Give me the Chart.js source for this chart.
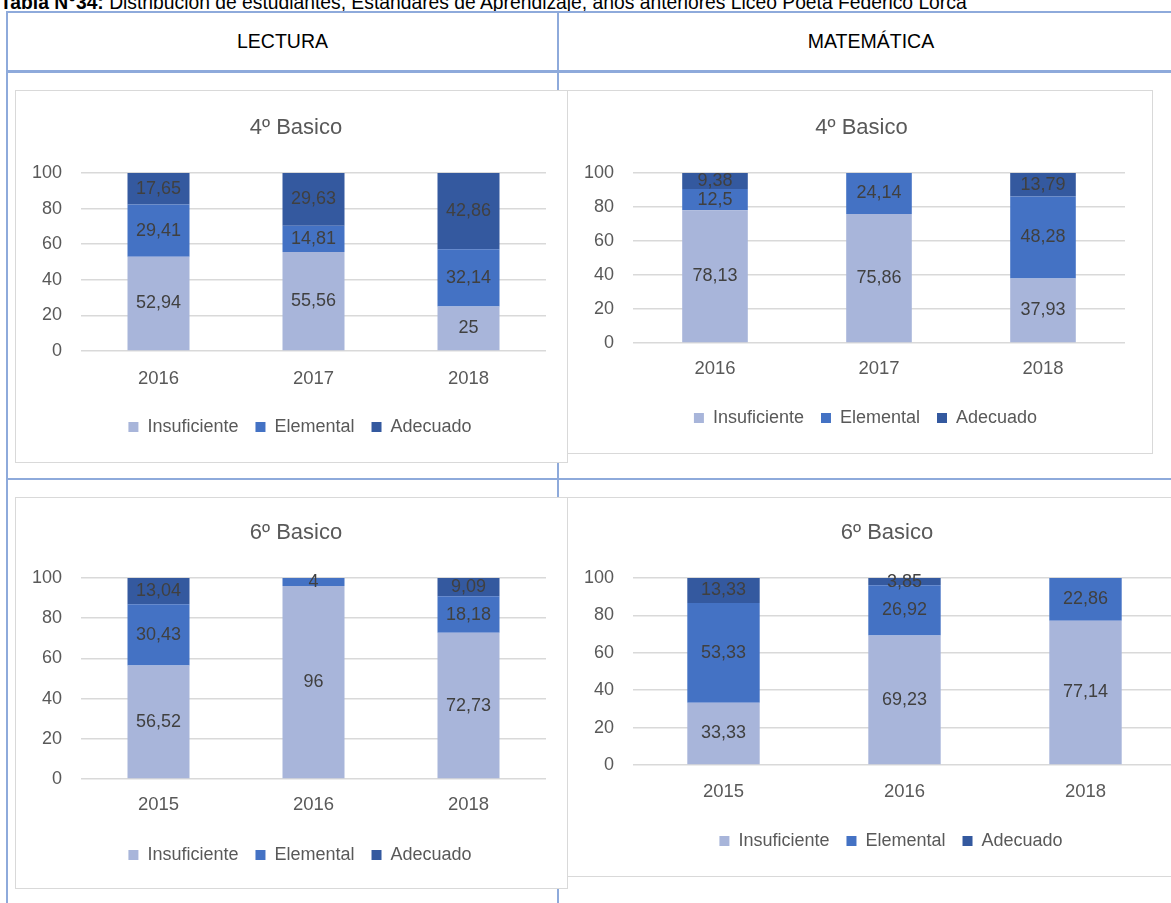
<!DOCTYPE html>
<html lang="es">
<head>
<meta charset="utf-8">
<title>Estándares de Aprendizaje</title>
<script src="https://cdn.jsdelivr.net/npm/chart.js@4.4.1/dist/chart.umd.min.js"></script>
<style>
html, body { margin: 0; padding: 0; background: #fff; overflow: hidden; width: 1171px; height: 903px; }
body { position: relative; font-family: 'Liberation Sans Narrow', 'Arial Narrow', 'Liberation Sans', sans-serif; }
.caption { position: absolute; left: 0; top: -7px; font-size: 19.3px; line-height: 20px; color: #000; white-space: nowrap; }
.line { position: absolute; background: #8eaadb; }
.head { position: absolute; top: 13px; height: 57px; line-height: 57px; text-align: center; font-size: 19.5px; color: #000; }
.box { position: absolute; border: 1px solid #d9d9d9; background: #fff; }
.box canvas { display: block; }
</style>
</head>
<body>
<div class="caption"><b>Tabla N°34:</b> Distribución de estudiantes, Estándares de Aprendizaje, años anteriores Liceo Poeta Federico Lorca</div>

<div class="line" style="left:7px; top:11px; width:1180px; height:2px;"></div>
<div class="line" style="left:6px; top:11px; width:2px; height:900px;"></div>
<div class="line" style="left:557px; top:11px; width:2px; height:900px;"></div>
<div class="line" style="left:7px; top:70px; width:1180px; height:3px;"></div>
<div class="line" style="left:7px; top:478px; width:1180px; height:2px;"></div>

<div class="head" style="left:8px; width:549px;">LECTURA</div>
<div class="head" style="left:559px; width:624px;">MATEMÁTICA</div>

<div class="box" style="left:15px; top:90px;"><canvas id="lectura4" width="551" height="371"></canvas></div>
<div class="box" style="left:567px; top:90px;"><canvas id="matematica4" width="584" height="362"></canvas></div>
<div class="box" style="left:15px; top:497px;"><canvas id="lectura6" width="551" height="390"></canvas></div>
<div class="box" style="left:567px; top:497px;"><canvas id="matematica6" width="634" height="378"></canvas></div>

<script>
// Niveles de logro
const levels = ['Insuficiente', 'Elemental', 'Adecuado'];

// Lectura 4º Basico
const lectura4Years = ['2016', '2017', '2018'];
const lectura4Insuficiente = [52.94, 55.56, 25];
const lectura4Elemental = [29.41, 14.81, 32.14];
const lectura4Adecuado = [17.65, 29.63, 42.86];

// Matemática 4º Basico
const matematica4Years = ['2016', '2017', '2018'];
const matematica4Insuficiente = [78.13, 75.86, 37.93];
const matematica4Elemental = [12.5, 24.14, 48.28];
const matematica4Adecuado = [9.38, 0, 13.79];

// Lectura 6º Basico
const lectura6Years = ['2015', '2016', '2018'];
const lectura6Insuficiente = [56.52, 96, 72.73];
const lectura6Elemental = [30.43, 4, 18.18];
const lectura6Adecuado = [13.04, 0, 9.09];

// Matemática 6º Basico
const matematica6Years = ['2015', '2016', '2018'];
const matematica6Insuficiente = [33.33, 69.23, 77.14];
const matematica6Elemental = [53.33, 26.92, 22.86];
const matematica6Adecuado = [13.33, 3.85, 0];

const levelColors = ['#a8b5da', '#4472c4', '#34599f'];
const FONT = "'Liberation Sans Narrow', 'Arial Narrow', 'Liberation Sans', sans-serif";

// etiquetas de valor centradas en cada segmento (coma decimal)
const valueLabels = {
    id: 'valueLabels',
    afterDatasetsDraw(chart) {
        const ctx = chart.ctx;
        ctx.save();
        ctx.font = '18px ' + FONT;
        ctx.fillStyle = '#404040';
        ctx.textAlign = 'center';
        ctx.textBaseline = 'middle';
        chart.data.datasets.forEach((ds, i) => {
            const meta = chart.getDatasetMeta(i);
            meta.data.forEach((bar, j) => {
                const v = ds.data[j];
                if (!v) return;
                const p = bar.getProps(['x', 'y', 'base'], true);
                ctx.fillText(String(v).replace('.', ','), p.x, (p.y + p.base) / 2);
            });
        });
        ctx.restore();
    }
};

// en Excel el título y la leyenda van centrados un poco más a la derecha
const shiftBlocks = {
    id: 'shiftBlocks',
    afterLayout(chart) {
        if (chart.titleBlock) {
            chart.titleBlock.left += 15;
            chart.titleBlock.right += 15;
        }
        if (chart.legend) {
            chart.legend.left += 19;
            chart.legend.right += 19;
        }
    }
};

function makeChart(id, title, years, series, box) {
    const legendPad = 17;
    const titlePadTop = box.titleY - 13.2;
    const titlePadBottom = box.plotTop - box.titleY - 13.2;
    const legendTop = box.legendY - 9 - legendPad;
    const xAxisHeight = legendTop - box.plotBottom;
    const padBottom = box.h - box.legendY - 19;

    return new Chart(document.getElementById(id), {
        type: 'bar',
        data: {
            labels: years,
            datasets: levels.map((name, i) => ({
                label: name,
                data: series[i],
                backgroundColor: levelColors[i],
                borderWidth: 0,
                barPercentage: 0.4,
                categoryPercentage: 1
            }))
        },
        options: {
            responsive: false,
            animation: false,
            devicePixelRatio: 1,
            layout: { padding: { left: 0, top: 0, right: box.padRight, bottom: padBottom } },
            plugins: {
                title: {
                    display: true,
                    text: title,
                    color: '#595959',
                    font: { family: FONT, size: 22, weight: 'normal' },
                    padding: { top: titlePadTop, bottom: titlePadBottom }
                },
                legend: {
                    position: 'bottom',
                    labels: {
                        color: '#595959',
                        font: { family: FONT, size: 18 },
                        boxWidth: 10,
                        boxHeight: 10,
                        padding: legendPad
                    }
                },
                tooltip: { enabled: false }
            },
            scales: {
                x: {
                    stacked: true,
                    grid: { display: false, drawTicks: false },
                    border: { display: false },
                    ticks: { color: '#595959', font: { family: FONT, size: 18.5 }, padding: box.xLabelY - box.plotBottom - 11.1 },
                    afterFit(scale) { scale.height = xAxisHeight; }
                },
                y: {
                    stacked: true,
                    min: 0,
                    max: 100,
                    ticks: { stepSize: 20, color: '#595959', font: { family: FONT, size: 18 }, padding: 19 },
                    grid: { color: '#d9d9d9', lineWidth: 1.5, drawTicks: false },
                    border: { display: false },
                    afterFit(scale) { scale.width = box.plotLeft; }
                }
            }
        },
        plugins: [valueLabels, shiftBlocks]
    });
}

makeChart('lectura4', '4º Basico', lectura4Years,
    [lectura4Insuficiente, lectura4Elemental, lectura4Adecuado],
    { h: 371, plotLeft: 65, padRight: 21, plotTop: 82, plotBottom: 260, titleY: 37, xLabelY: 288, legendY: 336 });

makeChart('matematica4', '4º Basico', matematica4Years,
    [matematica4Insuficiente, matematica4Elemental, matematica4Adecuado],
    { h: 362, plotLeft: 65, padRight: 27, plotTop: 82, plotBottom: 252, titleY: 37, xLabelY: 278, legendY: 327 });

makeChart('lectura6', '6º Basico', lectura6Years,
    [lectura6Insuficiente, lectura6Elemental, lectura6Adecuado],
    { h: 390, plotLeft: 65, padRight: 21, plotTop: 80, plotBottom: 281, titleY: 35, xLabelY: 307, legendY: 357 });

makeChart('matematica6', '6º Basico', matematica6Years,
    [matematica6Insuficiente, matematica6Elemental, matematica6Adecuado],
    { h: 378, plotLeft: 65, padRight: 26, plotTop: 80, plotBottom: 267, titleY: 35, xLabelY: 294, legendY: 343 });
</script>
</body>
</html>
